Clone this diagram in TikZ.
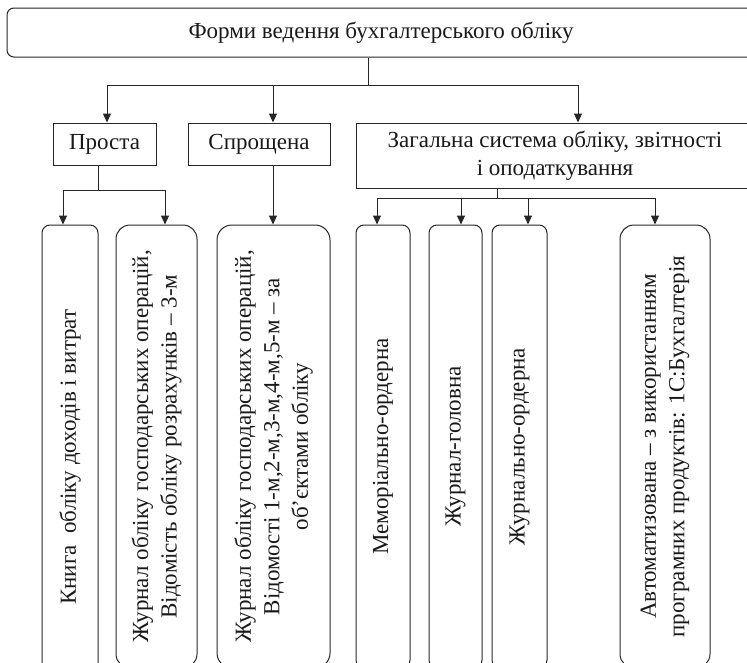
\documentclass[tikz,border=0pt]{standalone}
\usepackage{fontspec}
\setmainfont{Liberation Serif}
\usetikzlibrary{arrows.meta}
\begin{document}
\begin{tikzpicture}[x=1pt,y=-1pt,
  line width=1pt, draw=black!85,
  font=\fontsize{23}{28.5}\selectfont,
  arr/.style={-{Triangle[length=9pt,width=8pt]}},
  boxn/.style={draw=black!85, inner sep=0pt, align=center, text=black!90},
  vbox/.style={boxn, rotate=90, minimum width=443pt},
]
\useasboundingbox (0,0) rectangle (747,662);
\clip (0,0) rectangle (747,662);

% top
\node[boxn, rounded corners=7pt, minimum width=748pt, minimum height=49pt] (top) at (381,32.5) {Форми ведення бухгалтерського обліку};

% level 2
\node[boxn, minimum width=103pt, minimum height=42pt] (prosta) at (104.5,144) {Проста};
\node[boxn, minimum width=142pt, minimum height=42pt] (sprosch) at (259,144) {Спрощена};
\node[boxn, minimum width=398pt, minimum height=65pt] (zag) at (555,155.5) {Загальна система обліку, звітності\\і оподаткування};

% level 3 (vertical boxes, top at 225, running below the page)
\node[vbox, rounded corners=8pt, minimum height=56pt, minimum width=464pt] (b1) at (70,457) {Книга\ \ обліку доходів і витрат};
\node[vbox, rounded corners=14pt, minimum height=81pt] (b2) at (156.5,446.5) {Журнал обліку господарських операцій,\\Відомість обліку розрахунків – 3-м};
\node[vbox, rounded corners=15pt, minimum height=113pt] (b3) at (273.5,446.5) {Журнал обліку господарських операцій,\\Відомості 1-м,2-м,3-м,4-м,5-м – за\\об’єктами обліку};
\node[vbox, rounded corners=8pt, minimum height=54pt] (b4) at (383,446.5) {Меморіально-ордерна};
\node[vbox, rounded corners=8pt, minimum height=53pt] (b5) at (455.5,446.5) {Журнал-головна};
\node[vbox, rounded corners=8pt, minimum height=55pt] (b6) at (519.5,446.5) {Журнально-ордерна};
\node[vbox, rounded corners=14pt, minimum height=90pt] (b7) at (665,446.5) {Автоматизована – з використанням\\програмних продуктів: 1С:Бухгалтерія};

% bus from top
\coordinate (c0) at (368,85);
\coordinate (cA) at (107,85);
\coordinate (cB) at (273,85);
\coordinate (cC) at (578,85);
\draw (top.south -| c0) -- (c0);
\draw (cA) -- (cC);
\draw[arr] (cA) -- (prosta.north -| cA);
\draw[arr] (cB) -- (sprosch.north -| cB);
\draw[arr] (cC) -- (zag.north -| cC);

% bus from Проста
\coordinate (p0) at (98,190);
\coordinate (p1) at (63,190);
\coordinate (p2) at (165,190);
\draw (prosta.south -| p0) -- (p0);
\draw (p1) -- (p2);
\draw[arr] (p1) -- (b1.east -| p1);
\draw[arr] (p2) -- (b2.east -| p2);

% Спрощена
\draw[arr] (sprosch.south -| cB) -- (b3.east -| cB);

% bus from Загальна
\coordinate (z0) at (497,198);
\coordinate (z1) at (377,198);
\coordinate (z2) at (461,198);
\coordinate (z3) at (528,198);
\coordinate (z4) at (655,198);
\draw (zag.south -| z0) -- (z0);
\draw (z1) -- (z4);
\draw[arr] (z1) -- (b4.east -| z1);
\draw[arr] (z2) -- (b5.east -| z2);
\draw[arr] (z3) -- (b6.east -| z3);
\draw[arr] (z4) -- (b7.east -| z4);
\end{tikzpicture}
\end{document}
